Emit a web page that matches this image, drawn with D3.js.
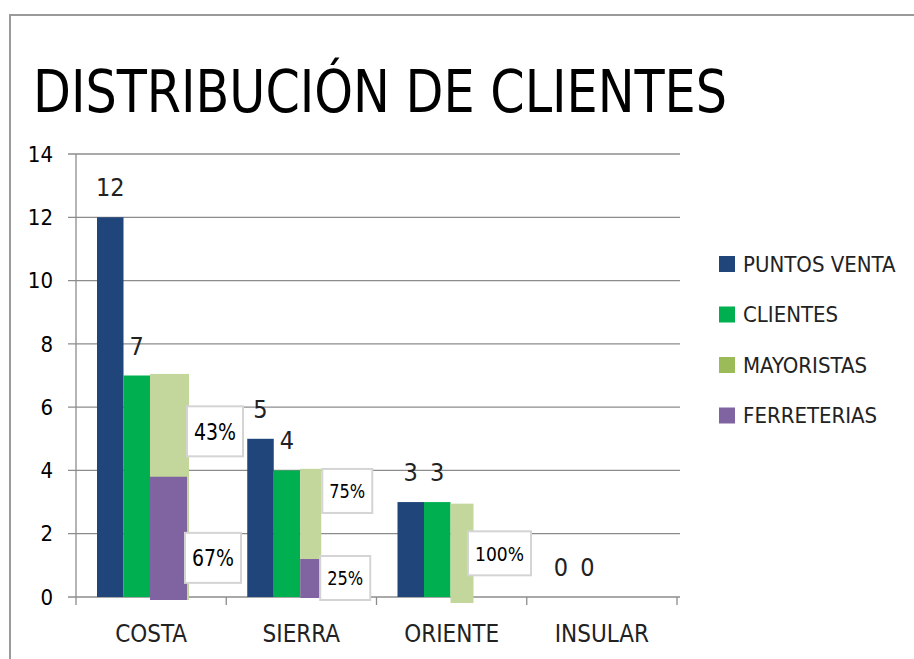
<!DOCTYPE html>
<html>
<head>
<meta charset="utf-8">
<script src="https://cdn.jsdelivr.net/npm/d3@7"></script>
<style>
  html, body { margin: 0; padding: 0; background: #fff; }
  svg { display: block; }
</style>
</head>
<body>
<div id="chart"></div>
<script>
// data
const categories = ['COSTA', 'SIERRA', 'ORIENTE', 'INSULAR'];
const puntosVenta = [12, 5, 3, 0];
const clientes = [7, 4, 3, 0];
const mayoristas = [7.05, 4.05, 2.95, 0];
const ferreterias = [3.8, 1.2, 0, 0];
const mayoristasPct = ['43%', '75%', '100%', ''];
const ferreteriasPct = ['67%', '25%', '', ''];
const yTicks = [0, 2, 4, 6, 8, 10, 12, 14];
const seriesNames = ['PUNTOS VENTA', 'CLIENTES', 'MAYORISTAS', 'FERRETERIAS'];

// colours
const C_BLUE = '#1f457a';
const C_GREEN = '#00b050';
const C_LIGHT = '#c3d69b';
const C_PURPLE = '#8064a2';
const legendColors = [C_BLUE, C_GREEN, '#9bbb59', C_PURPLE];

const NARROW = '"Liberation Sans Narrow", "Arial Narrow", "DejaVu Sans Condensed", sans-serif';

const W = 914, H = 659;
const svg = d3.select('#chart').append('svg').attr('width', W).attr('height', H);

// frame
svg.append('path')
  .attr('d', `M10,${H} L10,15 L${W},15`)
  .attr('fill', 'none').attr('stroke', '#9a9a9a').attr('stroke-width', 2);

// title
svg.append('text')
  .attr('x', 33).attr('y', 112)
  .attr('textLength', 694).attr('lengthAdjust', 'spacingAndGlyphs')
  .style('font-family', NARROW).style('font-size', '58px').attr('fill', '#000')
  .text('DISTRIBUCIÓN DE CLIENTES');

// scales
const scaleY = d3.scaleLinear().domain([0, 14]).range([597, 154]);
const scaleX = d3.scaleBand().domain(categories).range([76, 677]).padding(0);

// third-bar widths as drawn in the original (hand-adjusted)
const stackWidth = { COSTA: 39, SIERRA: 21, ORIENTE: 23, INSULAR: 23 };
const BAR_W = 26.5, OFF = 21;
const overhang = { COSTA: 3, SIERRA: 1, ORIENTE: 6, INSULAR: 0 };

// gridlines
const grid = svg.append('g');
grid.selectAll('line').data(yTicks).join('line')
  .attr('x1', 68).attr('x2', 680)
  .attr('y1', d => scaleY(d)).attr('y2', d => scaleY(d))
  .attr('stroke', '#8c8c8c').attr('stroke-width', 1.3);

// y axis
svg.append('line')
  .attr('x1', 76).attr('x2', 76).attr('y1', scaleY(14)).attr('y2', scaleY(0))
  .attr('stroke', '#8c8c8c').attr('stroke-width', 1.3);
svg.append('g').selectAll('text').data(yTicks).join('text')
  .attr('x', 53).attr('y', d => scaleY(d))
  .attr('dy', '0.35em').attr('text-anchor', 'end')
  .style('font-family', NARROW).style('font-size', '22px').attr('fill', '#000')
  .text(d => d);

// x axis ticks and labels
const xTickPos = categories.map(c => scaleX(c)).concat([scaleX.range()[1]]);
svg.append('g').selectAll('line').data(xTickPos).join('line')
  .attr('x1', d => d).attr('x2', d => d)
  .attr('y1', scaleY(0)).attr('y2', scaleY(0) + 8)
  .attr('stroke', '#8c8c8c').attr('stroke-width', 1.3);
svg.append('g').selectAll('text').data(categories).join('text')
  .attr('x', d => scaleX(d) + scaleX.bandwidth() / 2).attr('y', 642)
  .attr('text-anchor', 'middle')
  .style('font-family', NARROW).style('font-size', '24px').attr('fill', '#222')
  .text(d => d);

// bars
const bars = svg.append('g');
const rows = categories.map((c, i) => ({
  c, pv: puntosVenta[i], cl: clientes[i], my: mayoristas[i], fe: ferreterias[i],
  myPct: mayoristasPct[i], fePct: ferreteriasPct[i]
}));

bars.selectAll('.pv').data(rows.filter(d => d.pv > 0)).join('rect')
  .attr('x', d => scaleX(d.c) + OFF).attr('width', BAR_W)
  .attr('y', d => scaleY(d.pv)).attr('height', d => scaleY(0) - scaleY(d.pv))
  .attr('fill', C_BLUE);
bars.selectAll('.cl').data(rows.filter(d => d.cl > 0)).join('rect')
  .attr('x', d => scaleX(d.c) + OFF + BAR_W).attr('width', BAR_W)
  .attr('y', d => scaleY(d.cl)).attr('height', d => scaleY(0) - scaleY(d.cl))
  .attr('fill', C_GREEN);
bars.selectAll('.my').data(rows.filter(d => d.my > 0)).join('rect')
  .attr('x', d => scaleX(d.c) + OFF + 2 * BAR_W).attr('width', d => stackWidth[d.c])
  .attr('y', d => scaleY(d.my)).attr('height', d => scaleY(0) - scaleY(d.my) + overhang[d.c])
  .attr('fill', C_LIGHT);
bars.selectAll('.fe').data(rows.filter(d => d.fe > 0)).join('rect')
  .attr('x', d => scaleX(d.c) + OFF + 2 * BAR_W).attr('width', d => stackWidth[d.c] - 2)
  .attr('y', d => scaleY(d.fe)).attr('height', d => scaleY(0) - scaleY(d.fe) + overhang[d.c])
  .attr('fill', C_PURPLE);

// value labels
const valLabels = [];
rows.forEach(d => {
  valLabels.push({ x: scaleX(d.c) + OFF + BAR_W / 2, v: d.pv });
  valLabels.push({ x: scaleX(d.c) + OFF + BAR_W * 1.5, v: d.cl });
});
svg.append('g').selectAll('text').data(valLabels).join('text')
  .attr('x', d => d.x).attr('y', d => scaleY(d.v) - 21)
  .attr('text-anchor', 'middle')
  .style('font-family', NARROW).style('font-size', '25px').attr('fill', '#222')
  .text(d => d.v);

// percentage boxes (nudges follow the original placement)
const pctNudge = { COSTA: [6, 21], SIERRA: [-23, 0], ORIENTE: [3, 0], INSULAR: [0, 0] };
const pctFont = { COSTA: 23, SIERRA: 20, ORIENTE: 20, INSULAR: 20 };
const pctW = { COSTA: 42, SIERRA: 36, ORIENTE: 49, INSULAR: 40 };
const pctBoxes = [];
rows.forEach(d => {
  const right = scaleX(d.c) + OFF + 2 * BAR_W + stackWidth[d.c];
  if (d.myPct) pctBoxes.push({
    cx: right + 26, cy: (scaleY(d.my) + scaleY(d.fe)) / 2 + pctNudge[d.c][0],
    t: d.myPct, fs: pctFont[d.c], tw: pctW[d.c], h: d.c === 'COSTA' ? 50 : 44
  });
  if (d.fePct) pctBoxes.push({
    cx: right + 24, cy: (scaleY(d.fe) + scaleY(0)) / 2 + pctNudge[d.c][1],
    t: d.fePct, fs: pctFont[d.c], tw: pctW[d.c], h: d.c === 'COSTA' ? 50 : 44
  });
});
const pg = svg.append('g').selectAll('g').data(pctBoxes).join('g')
  .attr('transform', d => `translate(${d.cx},${d.cy})`);
pg.append('rect')
  .attr('x', d => -(d.tw + 14) / 2).attr('y', d => -d.h / 2)
  .attr('width', d => d.tw + 14).attr('height', d => d.h)
  .attr('fill', '#fff').attr('stroke', '#d4d4d4').attr('stroke-width', 2);
pg.append('text')
  .attr('x', d => -d.tw / 2).attr('dy', '0.36em')
  .attr('textLength', d => d.tw).attr('lengthAdjust', 'spacingAndGlyphs')
  .style('font-family', NARROW).style('font-size', d => d.fs + 'px').attr('fill', '#000')
  .text(d => d.t);

// legend
const lg = svg.append('g').selectAll('g').data(seriesNames).join('g')
  .attr('transform', (d, i) => `translate(719,${264 + i * 50.5})`);
lg.append('rect')
  .attr('x', 0).attr('y', -8).attr('width', 16).attr('height', 16)
  .attr('fill', (d, i) => legendColors[i]);
lg.append('text')
  .attr('x', 24).attr('dy', '0.36em')
  .style('font-family', NARROW).style('font-size', '22px').attr('fill', '#222')
  .text(d => d);
</script>
</body>
</html>
